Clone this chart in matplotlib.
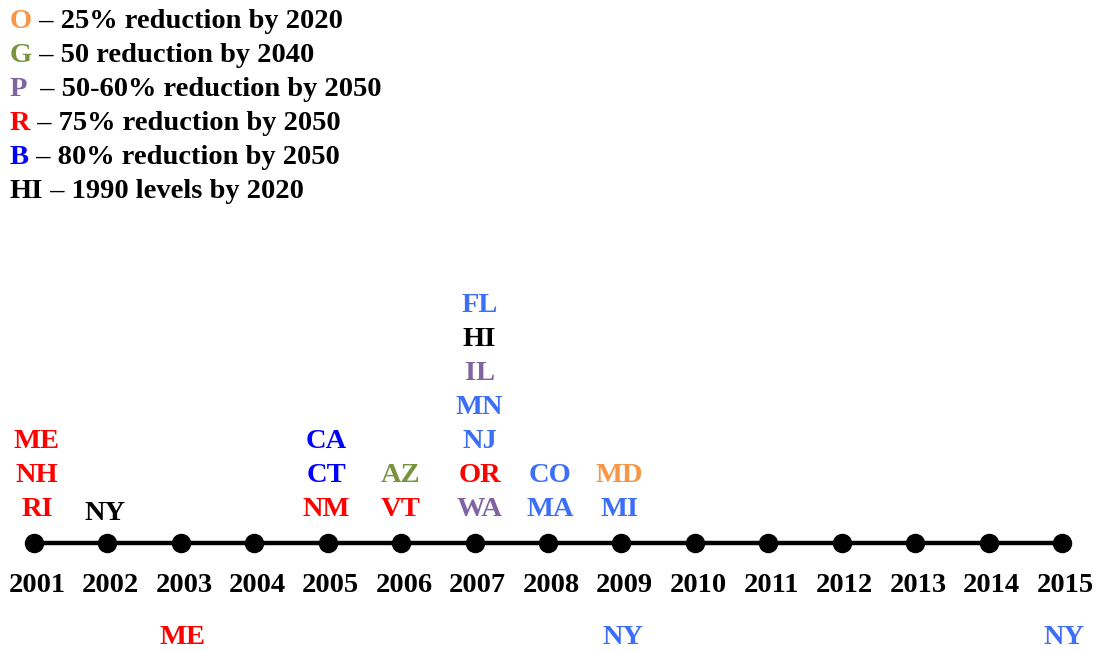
import matplotlib
matplotlib.use("Agg")
import matplotlib.pyplot as plt
from matplotlib.offsetbox import TextArea, HPacker, AnchoredOffsetbox

plt.rcParams['font.family'] = ['Liberation Serif', 'DejaVu Serif']

ORANGE = "#F79646"
GREEN = "#77933C"
PURPLE = "#8064A2"
RED = "#FF0000"
BLUE = "#0000FF"
LBLUE = "#3D6EF7"
BLACK = "#000000"

years = list(range(2001, 2016))

# labels above the timeline (listed bottom to top) per year
above = {
    2001: [("RI", RED), ("NH", RED), ("ME", RED)],
    2002: [("NY", BLACK)],
    2005: [("NM", RED), ("CT", BLUE), ("CA", BLUE)],
    2006: [("VT", RED), ("AZ", GREEN)],
    2007: [("WA", PURPLE), ("OR", RED), ("NJ", LBLUE), ("MN", LBLUE),
           ("IL", PURPLE), ("HI", BLACK), ("FL", LBLUE)],
    2008: [("MA", LBLUE), ("CO", LBLUE)],
    2009: [("MI", LBLUE), ("MD", ORANGE)],
}
# labels below the year ticks
below = {2003: ("ME", RED), 2009: ("NY", LBLUE), 2015: ("NY", LBLUE)}

legend_keys = ["O", "G", "P ", "R", "B", "HI"]
legend_key_colors = [ORANGE, GREEN, PURPLE, RED, BLUE, BLACK]
legend_texts = [" – 25% reduction by 2020", " – 50 reduction by 2040",
                " – 50-60% reduction by 2050", " – 75% reduction by 2050",
                " – 80% reduction by 2050", " – 1990 levels by 2020"]

# small layout nudges (pixels) for the label columns
nudge = {2001: (3, 0), 2002: (-2, 4), 2005: (-1, 0), 2006: (-1, 0),
         2007: (5, 0), 2008: (2, 0), 2009: (-2, 0)}

W, H = 1102, 651
fig = plt.figure(figsize=(W / 100, H / 100), dpi=100)
ax = fig.add_axes([0, 0, 1, 1])
ppy = (1062 - 34) / 14.0
ax.set_xlim(2001 - 34 / ppy, 2015 + (W - 1062) / ppy)
ax.set_ylim(H, 0)
ax.axis("off")

line_y = 543
ax.plot(years, [line_y] * len(years), color="black", lw=3.2,
        marker="o", markersize=13, zorder=2)

fs = 20.5
for yr in years:
    ax.text(yr + 3 / ppy, 586, str(yr), ha="center", va="center",
            fontsize=fs, fontweight="bold", color="black")

step = 34
for yr, items in above.items():
    dx, dy = nudge.get(yr, (0, 0))
    for k, (lab, col) in enumerate(items):
        ax.text(yr + dx / ppy, line_y - 33 + dy - step * k, lab, ha="center",
                va="center", fontsize=fs, fontweight="bold", color=col)

for yr, (lab, col) in below.items():
    ax.text(yr + 2 / ppy, 637, lab, ha="center", va="center",
            fontsize=fs, fontweight="bold", color=col)

# legend
leg_y0 = 22
leg_step = 33.8
for i, (k, kc, t) in enumerate(zip(legend_keys, legend_key_colors, legend_texts)):
    box = HPacker(children=[
        TextArea(k, textprops=dict(color=kc, fontsize=fs, fontweight="bold")),
        TextArea(t, textprops=dict(color="black", fontsize=fs, fontweight="bold")),
    ], pad=0, sep=0, align="baseline")
    yc = leg_y0 + leg_step * i
    ab = AnchoredOffsetbox(loc="center left", child=box, pad=0, borderpad=0,
                           frameon=False, bbox_to_anchor=(10 / W, 1 - yc / H),
                           bbox_transform=fig.transFigure)
    ax.add_artist(ab)

fig.savefig("out.png", dpi=100)
